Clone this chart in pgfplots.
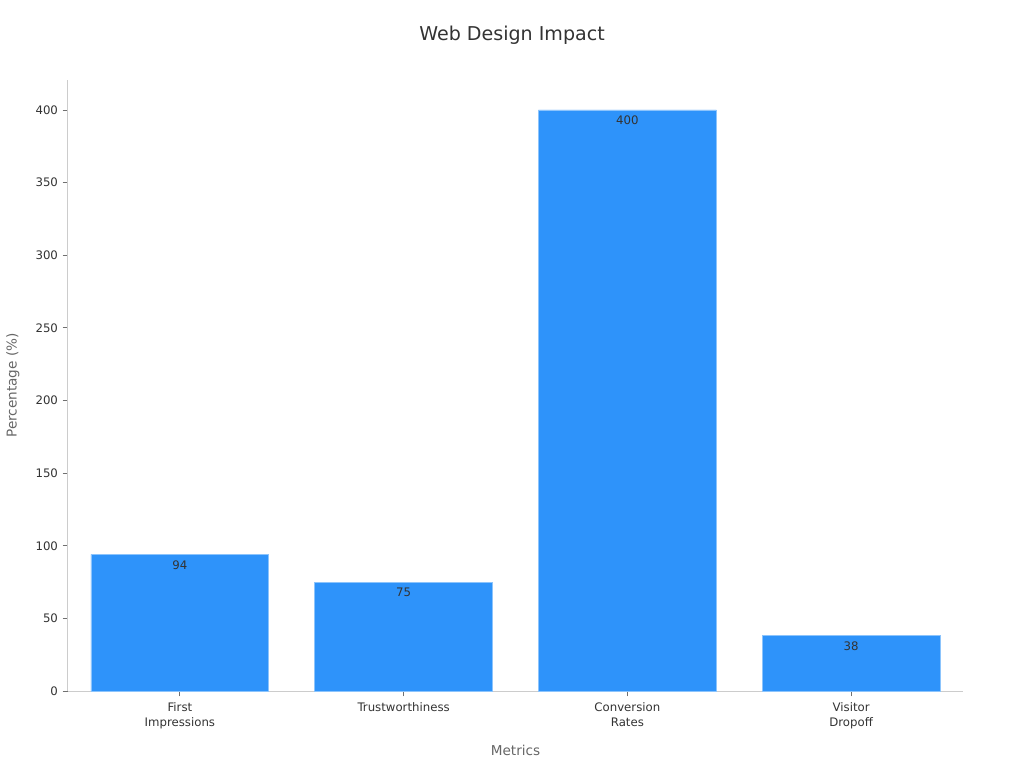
\documentclass[border=0pt]{standalone}
\usepackage{pgfplots}
\pgfplotsset{compat=1.18}
\usepackage{fontspec}
\setmainfont{DejaVu Sans}
\definecolor{barblue}{HTML}{2E93FA}
\definecolor{baredge}{HTML}{8CC4FC}
\definecolor{axisgray}{HTML}{CCCCCC}
\definecolor{ticktext}{HTML}{333333}
\definecolor{labeltext}{HTML}{666666}
\begin{document}
\begin{tikzpicture}[x=1pt,y=1pt]
\begin{axis}[
    at={(0,0)}, anchor=south west,
    scale only axis,
    width=671.25pt, height=458.25pt,
    xmin=-0.5, xmax=3.5,
    ymin=0, ymax=420.6,
    xtick={0,1,2,3},
    xticklabels={First\\Impressions, Trustworthiness, Conversion\\Rates, Visitor\\Dropoff},
    xticklabel style={align=center, font=\fontsize{8.8}{11.2}\selectfont, text=ticktext, yshift=-1pt},
    ytick={0,50,...,400},
    yticklabel style={font=\fontsize{8.8}{11}\selectfont, text=ticktext},
    /pgf/number format/assume math mode=true,
    axis x line*=bottom, axis y line*=left,
    axis line style={axisgray, line width=0.75pt, -},
    tick style={color=ticktext!70, line width=0.6pt},
    major tick length=4pt,
    tick align=outside,
    xlabel={Metrics}, ylabel={Percentage (\%)},
    label style={font=\fontsize{10.2}{12}\selectfont, text=labeltext},
    xlabel style={at={(axis description cs:0.5,0)}, anchor=center, yshift=-44.25pt},
    ylabel style={at={(axis description cs:0,0.5)}, anchor=center, yshift=41.25pt},
    title={Web Design Impact},
    title style={font=\fontsize{14.3}{16}\selectfont, text=ticktext, at={(axis description cs:0.5,1)}, anchor=center, yshift=27.75pt, xshift=-2.6pt},
    ybar, bar width=0.795, bar shift=0pt,
    nodes near coords,
    nodes near coords style={anchor=north, font=\fontsize{8.8}{11}\selectfont, text=ticktext, yshift=-1pt},
]
\addplot[fill=barblue, draw=baredge, line width=0.6pt] coordinates {
    (0,94) (1,75) (2,400) (3,38)
};
\end{axis}
\useasboundingbox (-51pt,-57.75pt) rectangle (717pt,518.25pt);
\end{tikzpicture}
\end{document}
